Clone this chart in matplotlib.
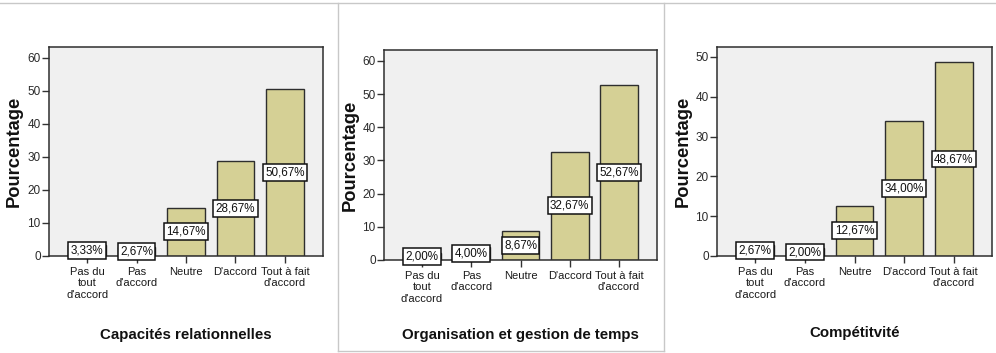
import matplotlib
matplotlib.use("Agg")
import matplotlib.pyplot as plt
from matplotlib.lines import Line2D
import numpy as np

plt.rcParams['font.family'] = ['Liberation Sans', 'DejaVu Sans']

categories = ["Pas du\ntout\nd'accord", "Pas\nd'accord", "Neutre", "D'accord", "Tout à fait\nd'accord"]

titles = ["Capacités relationnelles", "Organisation et gestion de temps", "Compétitvité"]

values_relationnelles = [3.33, 2.67, 14.67, 28.67, 50.67]
values_organisation = [2.00, 4.00, 8.67, 32.67, 52.67]
values_competitivite = [2.67, 2.00, 12.67, 34.00, 48.67]

series = [values_relationnelles, values_organisation, values_competitivite]
y_max = [63.3, 63.3, 52.5]
y_ticks = [np.arange(0, 61, 10), np.arange(0, 61, 10), np.arange(0, 51, 10)]

W, H = 996, 353
fig = plt.figure(figsize=(W / 100, H / 100), dpi=100)
fig.patch.set_facecolor('white')

# axes boxes in pixels: left, top, right, bottom
boxes = [(49, 47, 323, 256), (384, 50, 657, 260), (717, 47, 992, 256)]
ylabel_x = [14, 350, 683]
xlabel_y = [335, 335, 333]

bar_color = '#D5D095'
edge_color = '#2E2E2E'

for i, (vals, title) in enumerate(zip(series, titles)):
    l, t, r, b = boxes[i]
    ax = fig.add_axes([l / W, (H - b) / H, (r - l) / W, (b - t) / H])
    ax.set_facecolor('#F0F0F0')
    x = np.arange(len(categories))
    ax.bar(x, vals, width=0.76, color=bar_color, edgecolor=edge_color, linewidth=1.0, zorder=2)
    for xi, v in zip(x, vals):
        ax.text(xi, v / 2, f"{v:.2f}".replace('.', ',') + '%', ha='center', va='center',
                fontsize=8.4, color='#111111', zorder=4,
                bbox=dict(boxstyle='square,pad=0.2', facecolor='white', edgecolor='#111111', linewidth=1.1))
    ax.set_xlim(-0.77, len(categories) - 1 + 0.77)
    ax.set_ylim(0, y_max[i])
    ax.set_yticks(y_ticks[i])
    ax.set_xticks(x)
    ax.set_xticklabels(categories, fontsize=8, linespacing=1.15, color='#1a1a1a')
    ax.tick_params(axis='y', labelsize=8.5, length=5, width=1.0, color='#333333', pad=1, labelcolor='#2a2a2a')
    ax.tick_params(axis='x', length=5, width=1.0, color='#333333', pad=3)
    for s in ax.spines.values():
        s.set_color(edge_color)
        s.set_linewidth(1.1)
    fig.text(ylabel_x[i] / W, (H - (t + b) / 2) / H, 'Pourcentage', rotation=90,
             ha='center', va='center', fontsize=13.2, fontweight='bold', color='#111111')
    fig.text((l + r) / 2 / W, (H - xlabel_y[i]) / H, title, ha='center', va='center',
             fontsize=10.8, fontweight='bold', color='#111111')

# light panel separators
sep = '#C8C8C8'
def px_line(xs, ys):
    fig.add_artist(Line2D([x_ / W for x_ in xs], [(H - y_) / H for y_ in ys],
                          color=sep, linewidth=1.0, transform=fig.transFigure))

px_line([0, W], [3, 3])
px_line([338, 338], [3, 351])
px_line([664, 664], [3, 351])
px_line([338, 664], [351, 351])

fig.savefig('out.png', dpi=100)
